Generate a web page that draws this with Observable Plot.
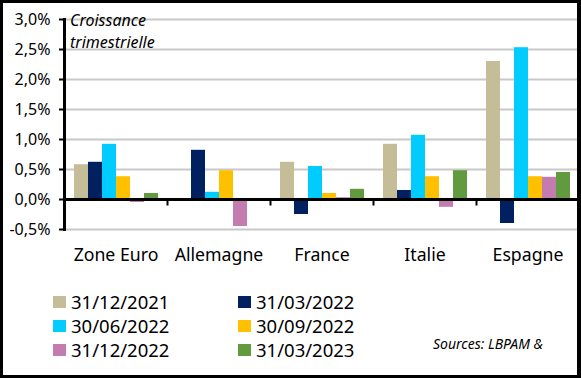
<!DOCTYPE html>
<html>
<head>
<meta charset="utf-8">
<script src="https://cdn.jsdelivr.net/npm/d3@7"></script>
<script src="https://cdn.jsdelivr.net/npm/@observablehq/plot@0.6"></script>
<style>
  html, body { margin: 0; padding: 0; background: #fff; }
  #wrap { position: relative; width: 581px; height: 378px; overflow: hidden; background: #fff;
          font-family: "Noto Sans", sans-serif; color: #000; }
  #chart { position: absolute; left: 0; top: 0; }
  #border { position: absolute; left: 0; top: 0; width: 581px; height: 378px; box-sizing: border-box;
            border: 3px solid #000; border-right-width: 4px; pointer-events: none; }
  #ytitle { position: absolute; left: 70px; top: 9px; font-size: 16px; font-style: italic; line-height: 22px; }
  #legend { position: absolute; left: 53px; top: 290px; display: grid; grid-template-columns: 185px 185px;
            font-size: 18.5px; line-height: 24px; }
  .item { display: flex; align-items: center; white-space: nowrap; }
  .sw { width: 13px; height: 12px; margin-right: 5px; display: inline-block; }
  #source { position: absolute; left: 433px; top: 336px; font-size: 14px; font-style: italic; line-height: 16px; }
</style>
</head>
<body>
<div id="wrap">
  <div id="chart"></div>
  <div id="ytitle">Croissance<br>trimestrielle</div>
  <div id="legend"></div>
  <div id="source">Sources: LBPAM &amp;</div>
  <div id="border"></div>
</div>
<script>
const countries = ["Zone Euro", "Allemagne", "France", "Italie", "Espagne"];
const dates = ["31/12/2021", "31/03/2022", "30/06/2022", "30/09/2022", "31/12/2022", "31/03/2023"];
const colors = ["#C4BD97", "#002060", "#00CCFF", "#FFC000", "#C47BB0", "#619A3F"];

// quarterly growth (%) per country, in the order of `countries`
const q4_2021 = [0.58, -0.03, 0.62, 0.92, 2.30];
const q1_2022 = [0.62, 0.82, -0.25, 0.15, -0.40];
const q2_2022 = [0.92, 0.12, 0.55, 1.07, 2.53];
const q3_2022 = [0.38, 0.48, 0.10, 0.38, 0.38];
const q4_2022 = [-0.05, -0.45, 0.03, -0.13, 0.37];
const q1_2023 = [0.10, 0.00, 0.17, 0.48, 0.45];

const yTicks = [-0.5, 0, 0.5, 1, 1.5, 2, 2.5, 3];

const series = [q4_2021, q1_2022, q2_2022, q3_2022, q4_2022, q1_2023];
const rows = [];
countries.forEach((c, i) => series.forEach((s, j) => rows.push({country: c, date: dates[j], value: s[i]})));

const fmt = d => d.toFixed(1).replace(".", ",") + "%";

const sepTick = { draw(ctx) { ctx.moveTo(0, 0); ctx.lineTo(0, 6); } };

const chart = Plot.plot({
  width: 581,
  height: 275,
  marginLeft: 63,
  marginRight: 2,
  marginTop: 19,
  marginBottom: 46,
  style: { fontFamily: "'Noto Sans', sans-serif", background: "transparent", color: "#000", overflow: "visible" },
  fx: { domain: countries, padding: 0 },
  x: { domain: dates, paddingInner: 0, paddingOuter: 0.67, axis: null },
  y: { domain: [-0.5, 3] },
  color: { domain: dates, range: colors },
  marks: [
    Plot.gridY(yTicks.filter(d => d !== 0), { stroke: "#c8c8c8", strokeOpacity: 1, strokeWidth: 2 }),
    Plot.barY(rows, { fx: "country", x: "date", y: "value", fill: "date" }),
    Plot.ruleY([0], { stroke: "#000", strokeWidth: 3 }),
    Plot.dot(countries.slice(1), { fx: d => d, y: () => 0, frameAnchor: "left", symbol: sepTick,
      stroke: "#000", strokeWidth: 2, fill: "none" }),
    Plot.frame({ anchor: "left", facetAnchor: "left", stroke: "#000", strokeWidth: 3 }),
    Plot.axisY({ ticks: yTicks, tickFormat: fmt, tickSize: 5, tickPadding: 9, fontSize: 16,
      strokeWidth: 2, label: null }),
    Plot.axisFx({ anchor: "bottom", tickSize: 0, tickPadding: 19, fontSize: 17.7, label: null })
  ]
});
document.getElementById("chart").appendChild(chart);

const legend = document.getElementById("legend");
dates.forEach((d, i) => {
  const it = document.createElement("div");
  it.className = "item";
  const sw = document.createElement("span");
  sw.className = "sw";
  sw.style.background = colors[i];
  it.appendChild(sw);
  it.appendChild(document.createTextNode(d));
  legend.appendChild(it);
});
</script>
</body>
</html>
